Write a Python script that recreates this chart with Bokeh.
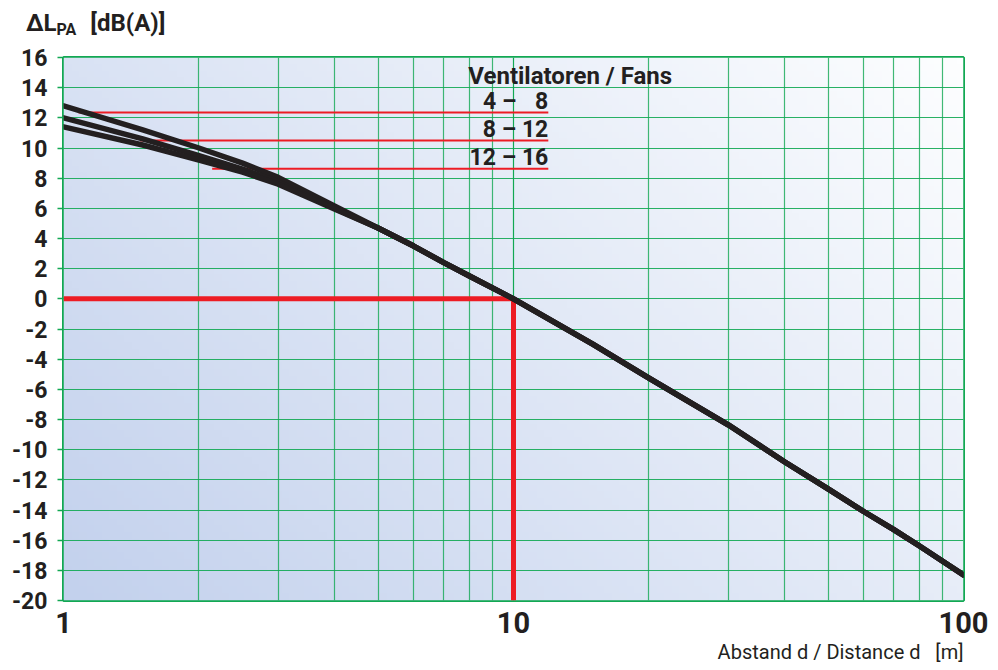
import numpy as np
from bokeh.plotting import figure
from bokeh.layouts import column
from bokeh.models import FixedTicker, Label, Range1d, Title, Div
from bokeh.embed import file_html
from bokeh.resources import INLINE

# ---------------- data ----------------
distance = [1, 1.5, 2, 2.5, 3, 4, 5, 6, 7, 8, 10, 15, 20, 30, 40, 50, 60, 70, 80, 100]
db_fans_4_8 = [12.8, 11.2, 10.0, 9.0, 8.05, 6.15, 4.7, 3.5, 2.4, 1.5, 0.0,
               -3.0, -5.25, -8.35, -10.8, -12.6, -14.1, -15.3, -16.4, -18.3]
db_fans_8_12 = [12.0, 10.6, 9.5, 8.6, 7.75, 6.0, 4.7, 3.5, 2.4, 1.5, 0.0,
                -3.0, -5.25, -8.35, -10.8, -12.6, -14.1, -15.3, -16.4, -18.3]
db_fans_12_16 = [11.4, 10.2, 9.2, 8.4, 7.6, 5.95, 4.7, 3.5, 2.4, 1.5, 0.0,
                 -3.0, -5.25, -8.35, -10.8, -12.6, -14.1, -15.3, -16.4, -18.3]

legend_title = "Ventilatoren / Fans"
legend_labels = ["4 – \u20078", "8 – 12", "12 – 16"]
legend_levels = [12.35, 10.5, 8.63]
legend_start = [1.08, 1.48, 2.14]
legend_end = 11.95

ref_distance = 10
ref_db = 0

x_ticks = [1, 10, 100]
x_minor_ticks = [2, 3, 4, 5, 6, 7, 8, 9, 20, 30, 40, 50, 60, 70, 80, 90]
x_tick_labels = ["1", "10", "100"]
y_ticks = [16, 14, 12, 10, 8, 6, 4, 2, 0, -2, -4, -6, -8, -10, -12, -14, -16, -18, -20]
y_tick_labels = ["16", "14", "12", "10", "8", "6", "4", "2", "0", "-2", "-4", "-6",
                 "-8", "-10", "-12", "-14", "-16", "-18", "-20"]

y_title_main = "ΔL"
y_title_sub = "PA"
y_title_unit = "[dB(A)]"
x_label = "Abstand d / Distance d\u00a0\u00a0\u00a0[m]"

# ---------------- style ----------------
GREEN = "#12a853"
RED = "#ed1c24"
BLACK = "#231f20"
FONT = "Roboto"
TOP = 40

header = Div(
    text=(f'<span>{y_title_main}</span>'
          f'<span style="font-size:16px;position:relative;top:4px;">{y_title_sub}</span>'
          f'<span style="margin-left:14px;">{y_title_unit}</span>'),
    width=998, height=TOP, margin=(0, 0, 0, 0),
    styles={"font-family": FONT, "font-weight": "bold", "font-size": "24px",
            "color": BLACK, "padding-left": "26px", "padding-top": "10px",
            "line-height": "26px", "white-space": "nowrap"})

p = figure(frame_width=900, frame_height=543, x_axis_type="log", output_backend="svg",
           toolbar_location=None, title_location=None,
           x_range=Range1d(1, 100), y_range=Range1d(-20, 16),
           min_border_left=63, min_border_right=35, min_border_top=57 - TOP,
           min_border_bottom=70, margin=(0, 0, 0, 0))
p.background_fill_color = "white"
p.border_fill_color = "white"
p.outline_line_color = GREEN
p.outline_line_width = 3

# gradient background (style only)
nx, ny = 120, 80
u = np.linspace(0, 1, nx)[None, :]
v = np.linspace(0, 1, ny)[:, None]
t = 0.62 * u + 0.38 * v
c0 = np.array([195, 209, 237], dtype=float)
c1 = np.array([253, 254, 255], dtype=float)
img = np.empty((ny, nx), dtype=np.uint32)
view = img.view(dtype=np.uint8).reshape((ny, nx, 4))
for k in range(3):
    view[:, :, k] = (c0[k] + (c1[k] - c0[k]) * t).astype(np.uint8)
view[:, :, 3] = 255
p.image_rgba(image=[img], x=1, y=-20, dw=99, dh=36, level="image")

# axes
p.xaxis.ticker = FixedTicker(ticks=x_ticks, minor_ticks=x_minor_ticks)
p.xaxis.major_label_overrides = {t_: l for t_, l in zip(x_ticks, x_tick_labels)}
p.yaxis.ticker = FixedTicker(ticks=y_ticks)
p.yaxis.major_label_overrides = {t_: l for t_, l in zip(y_ticks, y_tick_labels)}

for ax in (p.xaxis, p.yaxis):
    ax.axis_line_color = None
    ax.minor_tick_line_color = None
    ax.major_label_text_font = FONT
    ax.major_label_text_font_style = "bold"
    ax.major_label_text_color = BLACK

p.xaxis.major_tick_line_color = None
p.xaxis.major_label_text_font_size = "29px"
p.xaxis.major_label_standoff = 5
p.yaxis.major_tick_line_color = GREEN
p.yaxis.major_tick_line_width = 1.5
p.yaxis.major_tick_out = 6
p.yaxis.major_tick_in = 0
p.yaxis.major_label_text_font_size = "23px"
p.yaxis.major_label_standoff = 10

p.xgrid.grid_line_color = GREEN
p.xgrid.grid_line_width = 1.2
p.xgrid.minor_grid_line_color = GREEN
p.xgrid.minor_grid_line_width = 1.2
p.xgrid.minor_grid_line_alpha = 0.8
p.ygrid.grid_line_color = GREEN
p.ygrid.grid_line_width = 1.2
p.ygrid.grid_line_alpha = 0.9

# x axis title, right-aligned below the axis
p.add_layout(Title(text=x_label, align="right", text_font=FONT,
                   text_font_size="20px", text_font_style="normal",
                   text_color=BLACK, standoff=4, offset=0), "below")

# legend leader lines
for s, lv in zip(legend_start, legend_levels):
    p.line([s, legend_end], [lv, lv], line_color=RED, line_width=2)

# reference lines
p.line([1, ref_distance], [ref_db, ref_db], line_color=RED, line_width=5)
p.line([ref_distance, ref_distance], [ref_db, -20], line_color=RED, line_width=5)

# curves
for ys in (db_fans_4_8, db_fans_8_12, db_fans_12_16):
    p.line(distance, ys, line_color=BLACK, line_width=5.5,
           line_join="round", line_cap="round")

# legend texts
for lab, lv in zip(legend_labels, legend_levels):
    p.add_layout(Label(x=legend_end, y=lv, text=lab, text_align="right",
                       text_baseline="alphabetic", y_offset=11,
                       text_font=FONT, text_font_style="bold",
                       text_font_size="23px", text_color=BLACK))
p.add_layout(Label(x=legend_end, y=legend_levels[0], text=legend_title,
                   text_align="left", text_baseline="alphabetic",
                   x_offset=-80, y_offset=37, text_font=FONT,
                   text_font_style="bold", text_font_size="24px", text_color=BLACK))

open("out.html", "w").write(file_html(column(header, p, spacing=0), INLINE))
